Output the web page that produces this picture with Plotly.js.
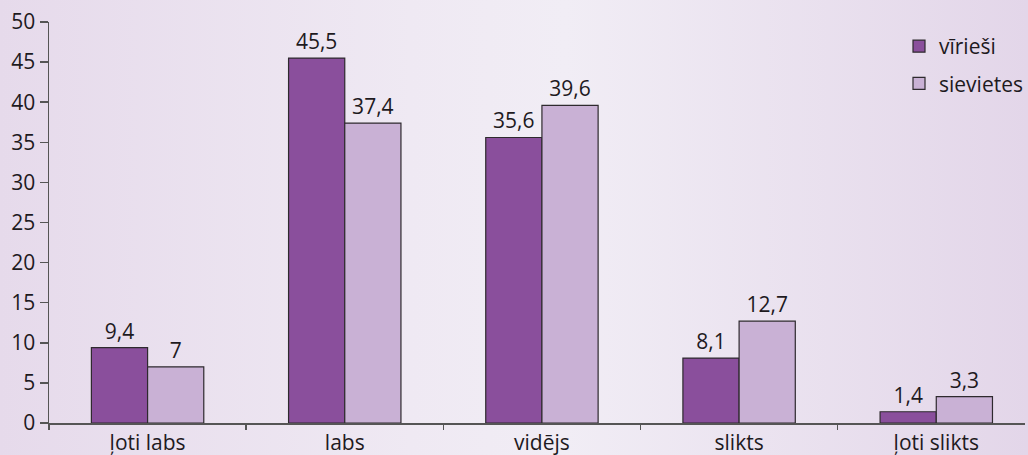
<!DOCTYPE html>
<html>
<head>
<meta charset="utf-8">
<script src="https://cdn.plot.ly/plotly-3.0.1.min.js"></script>
<style>
  html, body { margin: 0; padding: 0; }
  body { width: 1028px; height: 455px; background: linear-gradient(to right, #e6daeb 0%, #efe9f3 40%, #f1edf5 55%, #e3d6e9 100%); }
  #chart { width: 1028px; height: 455px; }
</style>
</head>
<body>
<div id="chart"></div>
<script>
const categories = ["ļoti labs", "labs", "vidējs", "slikts", "ļoti slikts"];
const seriesNames = ["vīrieši", "sievietes"];
const maleValues = [9.4, 45.5, 35.6, 8.1, 1.4];
const femaleValues = [7, 37.4, 39.6, 12.7, 3.3];
const yTicks = [0, 5, 10, 15, 20, 25, 30, 35, 40, 45, 50];

const fmt = v => String(v).replace('.', ',');
const textFont = { family: "Open Sans, sans-serif", size: 21, color: "#1e1a1e" };

const traces = [
  {
    type: "bar", name: seriesNames[0], x: categories, y: maleValues,
    text: maleValues.map(fmt), textposition: "outside", cliponaxis: false,
    textfont: textFont, legendgroup: "a",
    marker: { color: "#8a4f9c", line: { color: "#2e2a2e", width: 1.2 } }
  },
  {
    type: "bar", name: seriesNames[1], x: categories, y: femaleValues,
    text: femaleValues.map(fmt), textposition: "outside", cliponaxis: false,
    textfont: textFont, legendgroup: "b",
    marker: { color: "#c9b1d5", line: { color: "#2e2a2e", width: 1.2 } }
  }
];

const layout = {
  width: 1028, height: 455,
  margin: { l: 49, r: 0, t: 22, b: 32, pad: 0 },
  paper_bgcolor: "rgba(0,0,0,0)", plot_bgcolor: "rgba(0,0,0,0)",
  font: textFont,
  barmode: "group", bargap: 0.43, bargroupgap: 0,
  showlegend: true,
  legend: {
    x: 0.871, y: 0.99, xanchor: "left", yanchor: "top",
    bgcolor: "rgba(0,0,0,0)", font: textFont,
    traceorder: "grouped", tracegroupgap: 7, itemwidth: 30
  },
  xaxis: {
    type: "category", range: [-0.5, 4.45],
    showline: true, linecolor: "#555", linewidth: 1.5,
    ticks: "outside", tickson: "boundaries", ticklen: 5, tickcolor: "#555", tickwidth: 1.5,
    tickfont: textFont, showgrid: false, zeroline: false, fixedrange: true
  },
  yaxis: {
    range: [0, 50], tickvals: yTicks,
    showline: true, linecolor: "#555", linewidth: 1.5,
    ticks: "outside", ticklen: 8, tickcolor: "#555", tickwidth: 1.5,
    tickfont: textFont, showgrid: false, zeroline: false, fixedrange: true
  }
};

Plotly.newPlot("chart", traces, layout, { displayModeBar: false, staticPlot: true });
</script>
</body>
</html>
